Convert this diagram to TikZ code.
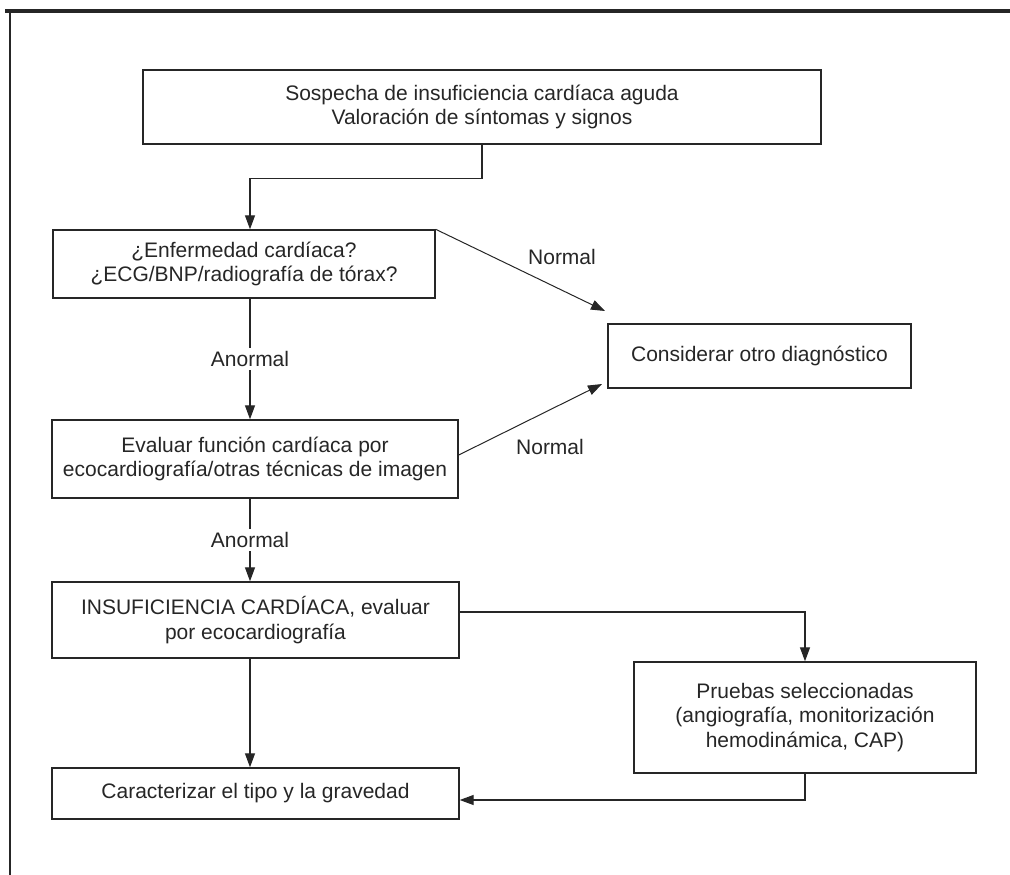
\documentclass[tikz,border=0pt]{standalone}
\usepackage{fontspec}
\setmainfont{Liberation Sans}
\usetikzlibrary{positioning, arrows.meta, calc}
\tikzset{
    stepbox/.style={
        draw=black!85,
        line width=1.4pt,
        align=center,
        inner sep=2pt,
        text=black!85,
        font=\fontsize{21}{24.5}\selectfont
    },
    flow/.style={
        line width=1.3pt,
        draw=black!85,
        -{Triangle[length=14pt,width=10pt]}
    },
    thinflow/.style={
        flow,
        line width=1pt
    },
    tag/.style={
        inner sep=3pt,
        text=black!85,
        font=\fontsize{21}{24.5}\selectfont
    }
}

\begin{document}
\begin{tikzpicture}[x=1pt,y=-1pt]
  \useasboundingbox (0,0) rectangle (1010,875);

  % frame
  \draw[line width=4pt, black!85] (5,11) -- (1010,11);
  \draw[line width=2pt, black!85] (10,11) -- (10,875);

  \node[stepbox, minimum width=678pt, minimum height=74pt] (sospecha) at (482,107)
    {Sospecha de insuficiencia cardíaca aguda\\Valoración de síntomas y signos};
  \node[stepbox, minimum width=382pt, minimum height=68pt] (enfermedad) at (244,264)
    {¿Enfermedad cardíaca?\\¿ECG/BNP/radiografía de tórax?};
  \node[stepbox, minimum width=303pt, minimum height=64pt] (otro) at (759.5,356)
    {Considerar otro diagnóstico};
  \node[stepbox, minimum width=406pt, minimum height=78pt] (evaluar) at (255,459)
    {Evaluar función cardíaca por\\ecocardiografía/otras técnicas de imagen};
  \node[stepbox, minimum width=407pt, minimum height=76pt] (insuf) at (255.5,620)
    {INSUFICIENCIA CARDÍACA, evaluar\\por ecocardiografía};
  \node[stepbox, minimum width=342pt, minimum height=111pt] (pruebas) at (805,717.5)
    {Pruebas seleccionadas\\(angiografía, monitorización\\hemodinámica, CAP)};
  \node[stepbox, minimum width=407pt, minimum height=51pt] (tipo) at (255.5,793.5)
    {Caracterizar el tipo y la gravedad};

  \coordinate (spine) at (250,0);
  \coordinate (otroA) at (605,311);
  \coordinate (otroB) at (602,384);

  % main column
  \draw[flow] (sospecha.south) -- ++(0,34) -| (enfermedad.north -| spine);
  \draw[flow] (enfermedad.south -| spine) -- node[tag, fill=white] (anormalA) {Anormal} (evaluar.north -| spine);
  \draw[flow] (evaluar.south -| spine) -- node[tag, fill=white] (anormalB) {Anormal} (insuf.north -| spine);
  \draw[flow] (insuf.south -| spine) -- (tipo.north -| spine);

  % normal branches
  \draw[thinflow] (enfermedad.north east) -- (otroA);
  \draw[thinflow] ([yshift=4pt]evaluar.east) -- (otroB);
  \node[tag] (normalA) at (562,257) {Normal};
  \node[tag] (normalB) at (550,447) {Normal};

  % side tests
  \draw[flow] ([yshift=8pt]insuf.east) -| (pruebas.north);
  \draw[flow] (pruebas.south) |- ([yshift=-6.5pt]tipo.east);

\end{tikzpicture}
\end{document}
